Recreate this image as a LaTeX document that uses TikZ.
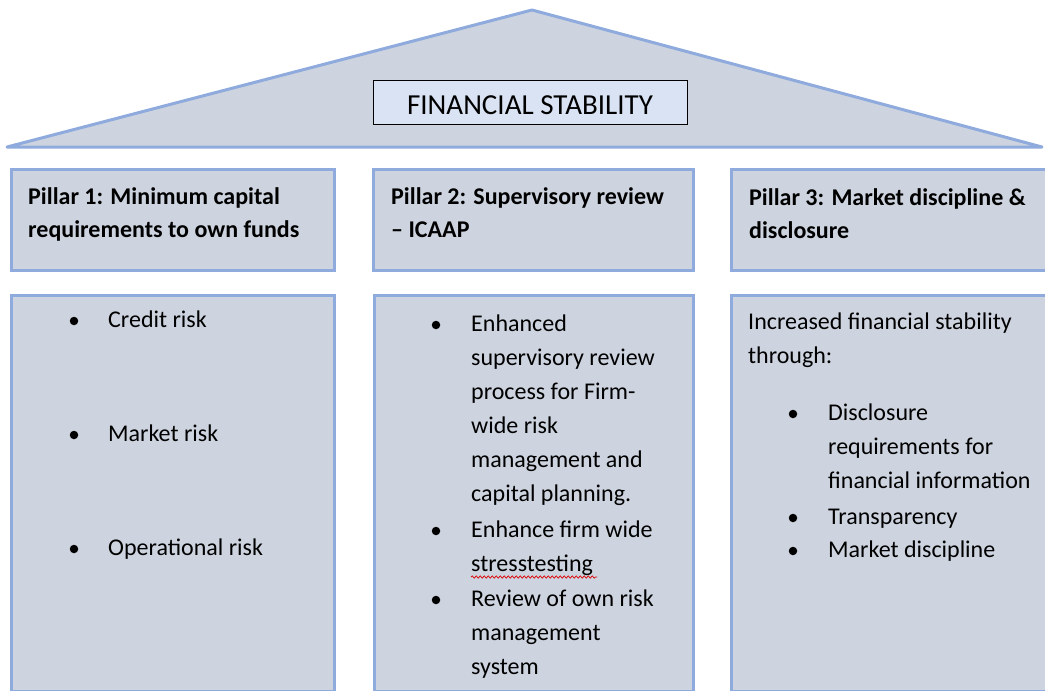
\documentclass[tikz,border=0pt]{standalone}
\usepackage{fontspec}
\setmainfont{Carlito}
\usetikzlibrary{positioning}
\usetikzlibrary{decorations.pathmorphing}
\definecolor{pillarfill}{HTML}{CDD4DF}
\definecolor{pillarline}{HTML}{8FAADC}
\definecolor{titlefill}{HTML}{DAE3F3}

\begin{document}
\begin{tikzpicture}
    [x=1pt, y=-1pt,
      every node/.style={inner sep=0pt, font=\fontsize{24}{34}\selectfont},
      pillarbox/.style={rectangle, draw=pillarline, line width=3pt, fill=pillarfill, anchor=north west},
      bodytext/.style={anchor=base west, align=left}, % base = last line
      headtext/.style={bodytext, font=\fontsize{24}{33}\selectfont\bfseries},
      bulletdot/.style={circle, fill=black, minimum size=8.5pt},
     ]
    \useasboundingbox (0,0) rectangle (1045,691);
    \clip (0,0) rectangle (1045,691);

    % roof
    \coordinate (eaveL) at (7,147);
    \coordinate (ridge) at (532,10);
    \coordinate (eaveR) at (1042,147);
    \draw[draw=pillarline, line width=3pt, line join=round, fill=pillarfill]
      (eaveL) -- (ridge) -- (eaveR) -- cycle;
    \node[draw=black, line width=0.8pt, fill=titlefill, minimum width=314pt, minimum height=44pt,
          font=\fontsize{29}{30}\selectfont, text height=24pt, text depth=0pt]
      (title) at (530,102) {FINANCIAL STABILITY};

    % pillar heads
    \node[pillarbox, minimum width=323pt, minimum height=101pt] (head1) at (10,168) {};
    \node[pillarbox, minimum width=320pt, minimum height=101pt] (head2) at (372,168) {};
    \node[pillarbox, minimum width=330pt, minimum height=101pt] (head3) at (730,168) {};
    \node[headtext] (head1text) at (28,237) {Pillar 1: Minimum capital\\requirements to own funds};
    \node[headtext] (head2text) at (391,237) {Pillar 2: Supervisory review\\– ICAAP};
    \node[headtext] (head3text) at (749,238) {Pillar 3: Market discipline \&\\disclosure};

    % pillar bodies
    \node[pillarbox, minimum width=323pt, minimum height=396pt] (body1) at (10,294) {};
    \node[pillarbox, minimum width=319pt, minimum height=396pt] (body2) at (373,294) {};
    \node[pillarbox, minimum width=330pt, minimum height=396pt] (body3) at (730,294) {};

    % pillar 1
    \foreach \y/\txt in {327/Credit risk, 441/Market risk, 555/Operational risk}{
      \node[bulletdot] (dot\y) at (74,\y-6) {};
      \node[bodytext] (risk\y) at (108,\y) {\txt};
    }

    % pillar 2
    \node[bulletdot] (srpdot) at (436,325) {};
    \node[bodytext] (srp) at (471,501) {Enhanced\\supervisory review\\process for Firm-\\wide risk\\management and\\capital planning.};
    \node[bulletdot] (stressdot) at (436,531) {};
    \node[bodytext] (stress) at (471,571) {Enhance firm wide\\stresstesting};
    \draw[red!85!black, line width=0.7pt, decorate, decoration={snake, amplitude=1.2pt, segment length=4pt}]
      (471,577) -- (597,577);
    \node[bulletdot] (ownriskdot) at (436,600) {};
    \node[bodytext] (ownrisk) at (471,674) {Review of own risk\\management\\system};

    % pillar 3
    \node[bodytext] (intro) at (748,363) {Increased financial stability\\through:};
    \node[bulletdot] (discdot) at (793,414) {};
    \node[bodytext] (disc) at (828,488) {Disclosure\\requirements for\\financial information};
    \node[bulletdot] (transdot) at (793,518) {};
    \node[bodytext] (trans) at (828,524) {Transparency};
    \node[bulletdot] (mktdot) at (793,551) {};
    \node[bodytext] (mkt) at (828,557) {Market discipline};
\end{tikzpicture}
\end{document}
